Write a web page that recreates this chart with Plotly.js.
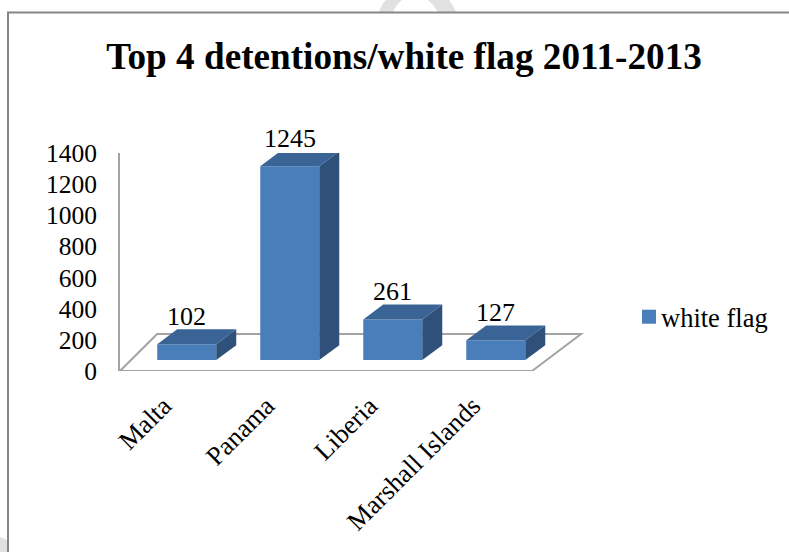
<!DOCTYPE html>
<html>
<head>
<meta charset="utf-8">
<script src="https://cdn.plot.ly/plotly-3.0.1.min.js"></script>
<style>html,body{margin:0;padding:0;background:#fff}</style>
</head>
<body>
<div id="chart" style="width:789px;height:552px"></div>
<script>
// Detentions under each flag
const categories = ['Malta', 'Panama', 'Liberia', 'Marshall Islands'];
const detentions = [102, 1245, 261, 127];
const yTicks = [0, 200, 400, 600, 800, 1000, 1200, 1400];
const seriesName = 'white flag';
const chartTitle = 'Top 4 detentions/white flag 2011-2013';

// Pseudo-3D projection, in axis units
const barWidth = 0.573;
const barLift = 70;      // how far the bar bases sit above the front floor edge
const depthX = 0.194;    // receding offset of the back faces
const depthY = 96;
const xRange = [-0.648, 5.808];
const yRange = [0, 1400];
const floorRight = 3.352;

const FONT = 'Liberation Serif, Times New Roman, serif';
const FRONT = '#4a7ebb', TOP = '#3a6496', SIDE = '#2f5079', AXIS = '#a3a3a3';

const xs = categories.map((_, i) => i);

// Builds one polygon per bar, separated by nulls, from a corner function
function faces(corners) {
  const px = [], py = [];
  detentions.forEach((v, i) => {
    const l = i - barWidth / 2, r = i + barWidth / 2, t = v + barLift, b = barLift;
    corners(l, r, t, b).forEach(c => { px.push(c[0]); py.push(c[1]); });
    px.push(null); py.push(null);
  });
  return {x: px, y: py};
}

const front = {
  type: 'bar', name: seriesName, x: xs, y: detentions, base: barLift, width: barWidth,
  marker: {color: FRONT, line: {width: 0}}, cliponaxis: false, hoverinfo: 'skip'
};
const topFace = Object.assign(faces((l, r, t) => [[l, t], [l + depthX, t + depthY], [r + depthX, t + depthY], [r, t], [l, t]]), {
  type: 'scatter', mode: 'lines', fill: 'toself', fillcolor: TOP, line: {width: 0, color: TOP},
  showlegend: false, cliponaxis: false, hoverinfo: 'skip'
});
const sideFace = Object.assign(faces((l, r, t, b) => [[r, b], [r, t], [r + depthX, t + depthY], [r + depthX, b + depthY], [r, b]]), {
  type: 'scatter', mode: 'lines', fill: 'toself', fillcolor: SIDE, line: {width: 0, color: SIDE},
  showlegend: false, cliponaxis: false, hoverinfo: 'skip'
});

// Value labels float above the back edge of each bar
const valueLabels = detentions.map((v, i) => ({
  x: i, y: v + barLift, xref: 'x', yref: 'y', text: String(v), showarrow: false,
  xanchor: 'center', yanchor: 'bottom', yshift: 11, xshift: 0,
  font: {family: FONT, size: 26, color: '#000'}
}));

// Plot box in page pixels, used to place the page-level frame and legend
const W = 789, H = 552, L = 120, R = 785, T = 153, B = 371;
const toPaperX = px => (px - L) / (R - L);
const toPaperY = py => (B - py) / (B - T);
const pt = (px, py) => `${toPaperX(px)} ${toPaperY(py)}`;

const layout = {
  width: W, height: H,
  margin: {l: L, r: W - R, t: T, b: H - B, pad: 0},
  paper_bgcolor: '#fff', plot_bgcolor: 'rgba(0,0,0,0)',
  font: {family: FONT, color: '#000'},
  title: {text: '<b>' + chartTitle + '</b>', x: 404 / W, xanchor: 'center', y: 1 - 56 / H, yanchor: 'middle',
          font: {family: FONT, size: 37.2, color: '#000'}},
  showlegend: true,
  legend: {x: toPaperX(625), y: toPaperY(317), xanchor: 'left', yanchor: 'middle', bgcolor: 'rgba(0,0,0,0)',
           font: {family: FONT, size: 26.5, color: '#000'}, itemclick: false, itemdoubleclick: false},
  xaxis: {
    type: 'linear', range: xRange, tickmode: 'array', tickvals: xs, ticktext: categories,
    tickangle: -45, ticks: '', showgrid: false, zeroline: false, showline: false,
    tickfont: {family: FONT, size: 26.5}, ticklabelstandoff: 13, ticklabelshift: -23
  },
  yaxis: {
    range: yRange, tickmode: 'array', tickvals: yTicks, ticks: '', showgrid: false, zeroline: false,
    showline: true, linecolor: AXIS, linewidth: 2,
    tickfont: {family: FONT, size: 25.5}, ticklabelstandoff: 16
  },
  annotations: valueLabels,
  shapes: [
    // Faint page artwork showing behind the chart
    {type: 'path', layer: 'below', xref: 'paper', yref: 'paper', fillcolor: '#e1e1e1', line: {width: 0},
     path: `M ${pt(379, 12)} Q ${pt(381, 5)} ${pt(386, 0)} L ${pt(402, 0)} Q ${pt(396, 5)} ${pt(393, 12)} Z`},
    {type: 'path', layer: 'below', xref: 'paper', yref: 'paper', fillcolor: '#e1e1e1', line: {width: 0},
     path: `M ${pt(438, 12)} Q ${pt(434, 5)} ${pt(428, 0)} L ${pt(449, 0)} Q ${pt(453, 5)} ${pt(456, 12)} Z`},
    {type: 'path', layer: 'below', xref: 'paper', yref: 'paper', fillcolor: '#e1e1e1', line: {width: 0},
     path: `M ${pt(0, 537)} L ${pt(7, 540)} L ${pt(7, 552)} L ${pt(0, 552)} Z`},
    // Floor of the projected chart, beneath the bars
    {type: 'path', layer: 'below', xref: 'x', yref: 'y', line: {color: AXIS, width: 2},
     path: `M ${xRange[0]} 0 L ${floorRight} 0 L ${floorRight + 0.476} 238 L ${xRange[0] + 0.36} 238 Z`},
    // Chart frame
    {type: 'path', layer: 'below', xref: 'paper', yref: 'paper', line: {color: '#868686', width: 2},
     path: `M ${pt(8, 552)} L ${pt(8, 12.5)} L ${pt(789, 12.5)}`}
  ]
};

Plotly.newPlot('chart', [front, sideFace, topFace], layout, {displayModeBar: false, staticPlot: true}).then(gd => {
  // Tighter legend entry: larger swatch, closer to its text
  const swatch = gd.querySelector('.legendpoints path');
  if (swatch) swatch.setAttribute('d', 'M-7,-7h14v14h-14z');
  const label = gd.querySelector('.legendtext');
  if (label) label.setAttribute('x', '36');
  const toggle = gd.querySelector('.legendpoints');
  if (toggle) toggle.setAttribute('transform', 'translate(4,0)');
});
</script>
</body>
</html>
